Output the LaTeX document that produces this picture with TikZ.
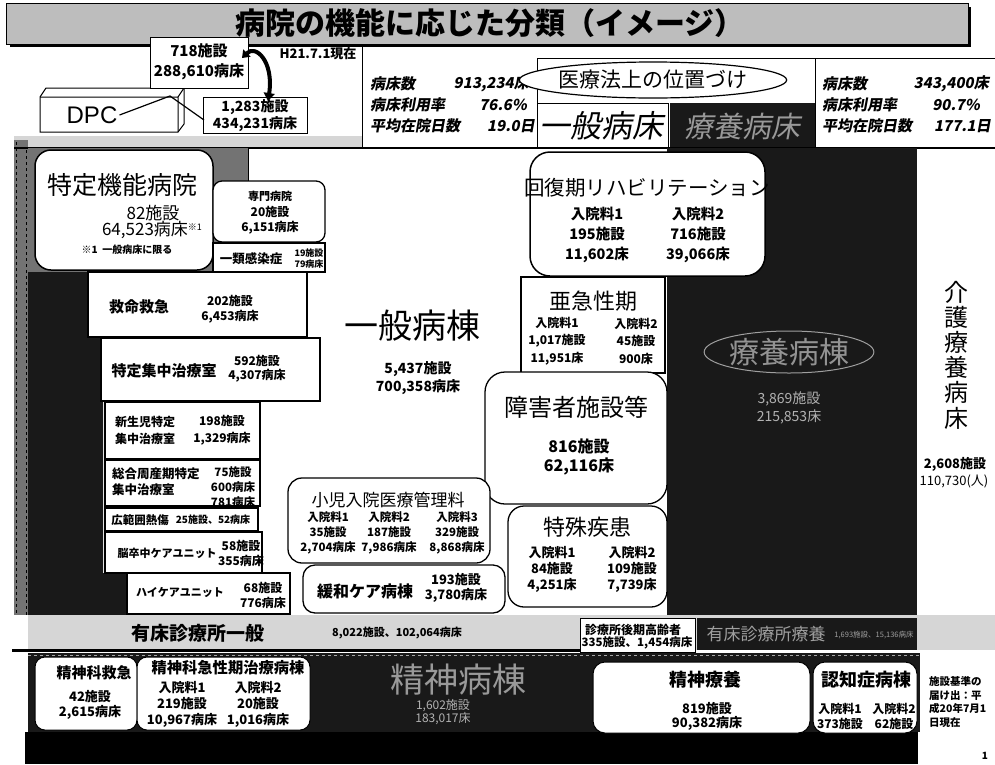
\documentclass[tikz,border=0pt]{standalone}
\usepackage{fontspec}
\setmainfont{Noto Sans CJK JP}
\newfontfamily\slf[FakeSlant=0.18]{Noto Sans CJK JP}
\newfontfamily\dpcf{Liberation Sans}
\usetikzlibrary{arrows.meta,shapes.geometric}
\definecolor{dk}{gray}{0.1}
\definecolor{mg}{gray}{0.45}
\definecolor{lg}{gray}{0.74}
\definecolor{lb}{gray}{0.84}
\begin{document}
\begin{tikzpicture}[x=1pt,y=-1pt,
  txr/.style n args={2}{inner sep=0pt, align=center, font=\fontsize{#1}{#2}\selectfont},
  txb/.style n args={2}{inner sep=0pt, align=center, font=\fontsize{#1}{#2}\selectfont\bfseries},
  txs/.style n args={2}{inner sep=0pt, font=\slf\fontsize{#1}{#2}\selectfont\bfseries},
  bx/.style={draw=black, line width=1.3pt, fill=white},
  rbx/.style={bx, rounded corners=11pt}]
\useasboundingbox (0,0) rectangle (995,764);
\fill[white] (0,0) rectangle (995,764);

% title banner
\fill[black] (10,7) rectangle (971,47);
\draw[line width=1pt, fill=lg] (6,3) rectangle (968,44);
\node[txb={30}{30}] (title) at (490,23) {病院の機能に応じた分類（イメージ）};

% top strip + left frame
\fill[lb] (14,136) rectangle (362,148);
\fill[mg] (14,140) rectangle (28,615);
\draw[dashed, line width=0.8pt] (16,142) -- (16,615);
\draw[dashed, line width=0.8pt] (26,150) -- (26,615);

% DPC
\draw[line width=1pt, fill=white] (40,97) -- (46,88) -- (184,88) -- (184,124) -- (178,132) -- (40,132) -- cycle;
\draw[line width=1pt] (40,97) -- (178,97) -- (178,132) (178,97) -- (184,88);
\node[inner sep=0pt, font=\dpcf\fontsize{24}{24}\selectfont] (dpc) at (92,115) {DPC};

% 718 box
\draw[bx, line width=1pt] (150,37) rectangle (248,88);
\node[txb={15}{20}] (n718) at (199,62) {718施設\\288,610病床};

% 1283 box
\draw[bx, line width=1pt] (203,97) rectangle (307,133);
\node[txb={14}{17}] (n1283) at (255,116) {1,283施設\\434,231病床};

% callout lines
\coordinate (cA) at (170,96);
\coordinate (cB) at (204,120);
\draw[line width=1.2pt] ([xshift=2pt]dpc.east) -- (cA) -- (cB);

% curved arrow
\coordinate (arS) at (242,58);
\coordinate (arE) at (268,101);
\draw[line width=4pt, {Triangle[length=7pt,width=10pt]}-{Triangle[length=8pt,width=11pt]}] (arS) .. controls (256,44) and (274,62) .. (arE);

\node[txb={13}{13}] (h21) at (318,54) {H21.7.1現在};

% header
\draw[line width=1pt] (362,46) -- (362,148);
\node[txs={15}{15}, anchor=west] (l1) at (370,84) {病床数};
\node[txs={15}{15}, anchor=east] (v1) at (529,84) {913,234床};
\node[txs={15}{15}, anchor=west] (l2) at (370,105) {病床利用率};
\node[txs={15}{15}, anchor=east] (v2) at (527,105) {76.6\%};
\node[txs={15}{15}, anchor=west] (l3) at (370,126) {平均在院日数};
\node[txs={15}{15}, anchor=east] (v3) at (535,126) {19.0日};

\draw[line width=1pt] (537,58) -- (995,58);
\draw[line width=1pt] (537,58) -- (537,148);
\draw[line width=1pt] (815,58) -- (815,148);
\node[draw, ellipse, line width=1.2pt, minimum width=228pt, minimum height=36pt, fill=white, txr={21}{21}] (iryo) at (653,80) {医療法上の位置づけ};

\draw[line width=1pt, fill=white] (537,103) rectangle (668,148);
\node[inner sep=0pt, font=\slf\fontsize{31}{31}\selectfont] (ippanb) at (601,126) {一般病床};
\fill[dk] (670,103) rectangle (815,148);
\node[inner sep=0pt, font=\slf\fontsize{29}{29}\selectfont, text=gray!80] (ryoyob) at (742,126) {療養病床};

\node[txs={15}{15}, anchor=west] (r1) at (822,84) {病床数};
\node[txs={15}{15}, anchor=east] (rv1) at (989,84) {343,400床};
\node[txs={15}{15}, anchor=west] (r2) at (822,105) {病床利用率};
\node[txs={15}{15}, anchor=east] (rv2) at (980,105) {90.7\%};
\node[txs={15}{15}, anchor=west] (r3) at (822,126) {平均在院日数};
\node[txs={15}{15}, anchor=east] (rv3) at (991,126) {177.1日};

\draw[line width=1.2pt] (14,148) -- (995,148);

% stippled left areas
\fill[mg] (28,148) rectangle (248,272);
\draw[line width=1pt] (248,148) -- (248,181);
\fill[dk] (28,272) -- (88,272) -- (88,338) -- (103,338) -- (103,573) -- (127,573) -- (127,615) -- (28,615) -- cycle;

% dark column
\fill[dk] (667,148) rectangle (917,616);

% left stack
\draw[rbx, rounded corners=16pt, line width=1.5pt] (35,150) rectangle (213,270);
\node[txr={25}{25}] (tokutei) at (122,185) {特定機能病院};
\node[txr={17}{17}] (t82) at (153,213) {82施設};
\node[txr={17}{17}] (t64) at (152,230) {64,523病床\raisebox{5pt}{\fontsize{9}{9}\selectfont ※1}};
\node[txb={10}{10}] (tnote) at (127,250) {※1\ \ 一般病床に限る};

\draw[rbx, rounded corners=9pt] (213,181) rectangle (325,242);
\node[txb={11}{11}] (senmon) at (270,196) {専門病院};
\node[txb={12}{15}] (senmon2) at (270,220) {20施設\\6,151病床};

\draw[bx] (213,243) rectangle (325,272);
\node[txb={12.5}{12.5}] (ichirui) at (251,259) {一類感染症};
\node[txb={9}{11}] (ichirui2) at (309,259) {19施設\\79病床};

\draw[bx] (88,272) rectangle (307,337);
\node[txb={15}{15}] (kyumei) at (139,307) {救命救急};
\node[txb={12}{15}] (kyumei2) at (230,309) {202施設\\6,453病床};

\draw[bx] (101,338) rectangle (320,401);
\node[txb={15}{15}] (icu) at (164,371) {特定集中治療室};
\node[txb={12}{14}] (icu2) at (257,369) {592施設\\4,307病床};

\draw[bx] (105,402) rectangle (260,459);
\node[txb={12}{17}] (nicu) at (145,430) {新生児特定\\集中治療室};
\node[txb={12}{17}] (nicu2) at (222,430) {198施設\\1,329病床};

\draw[bx] (105,460) rectangle (260,506);
\node[txb={12.5}{16}, align=left, anchor=west] (mficu) at (112,482) {総合周産期特定\\集中治療室};
\node[txb={11.5}{15}] (mficu2) at (233,487) {75施設\\600病床\\781病床};

\draw[bx] (105,508) rectangle (258,531);
\node[txb={11.5}{11.5}] (burn) at (140,520) {広範囲熱傷};
\node[txb={10}{10}] (burn2) at (213,520) {25施設、52病床};

\draw[bx] (105,532) rectangle (262,573);
\node[txb={11}{11}] (scu) at (167,553) {脳卒中ケアユニット};
\node[txb={12}{15}] (scu2) at (241,553) {58施設\\355病床};

\draw[bx] (127,573) rectangle (290,614);
\node[txb={11}{11}] (hcu) at (180,593) {ハイケアユニット};
\node[txb={12}{15}] (hcu2) at (263,595) {68施設\\776病床};

% centre
\node[txr={34}{34}] (ippan) at (412,326) {一般病棟};
\node[txb={14}{18}] (ippan2) at (418,378) {5,437施設\\700,358病床};

% right stack
\draw[rbx, rounded corners=20pt, line width=1.5pt] (530,152) rectangle (765,276);
\node[txr={20.5}{20.5}] (kaifuku) at (647,188) {回復期リハビリテーション};
\node[txb={14.5}{20}] (kf1) at (597,235) {入院料1\\195施設\\11,602床};
\node[txb={14.5}{20}] (kf2) at (698,235) {入院料2\\716施設\\39,066床};

\draw[bx] (521,277) rectangle (665,373);
\node[txr={22}{22}] (akyu) at (593,301) {亜急性期};
\node[txb={12}{17.5}] (ak1) at (557,341) {入院料1\\1,017施設\\11,951床};
\node[txb={12}{17.5}] (ak2) at (636,341) {入院料2\\45施設\\900床};

\draw[rbx, rounded corners=20pt] (485,372) rectangle (667,504);
\node[txr={24}{24}] (shogai) at (576,407) {障害者施設等};
\node[txb={16}{19}] (shogai2) at (579,457) {816施設\\62,116床};

\draw[rbx, rounded corners=14pt] (288,478) rectangle (490,563);
\node[txr={17}{17}] (shoni) at (388,500) {小児入院医療管理料};
\node[txb={11.5}{15}] (sh1) at (328,533) {入院料1\\35施設\\2,704病床};
\node[txb={11.5}{15}] (sh2) at (389,533) {入院料2\\187施設\\7,986病床};
\node[txb={11.5}{15}] (sh3) at (457,533) {入院料3\\329施設\\8,868病床};

\draw[rbx, rounded corners=12pt] (303,565) rectangle (505,613);
\node[txb={16}{16}] (kanwa) at (365,591) {緩和ケア病棟};
\node[txb={13}{15}] (kanwa2) at (456,588) {193施設\\3,780病床};

\draw[rbx, rounded corners=16pt] (508,506) rectangle (667,607);
\node[txr={22}{22}] (tokushu) at (587,527) {特殊疾患};
\node[txb={13}{16}] (ts1) at (552,569) {入院料1\\84施設\\4,251床};
\node[txb={13}{16}] (ts2) at (632,569) {入院料2\\109施設\\7,739床};

% ryoyo byoto
\node[draw=gray!75, ellipse, line width=1pt, minimum width=166pt, minimum height=42pt, txr={30}{30}, text=gray!85] (ryoyo2) at (789,352) {療養病棟};
\node[txr={14}{18}, text=gray!60] (ryoyo3) at (789,408) {3,869施設\\215,853床};

% kaigo
\node[txr={24}{25.2}, text width=26pt] (kaigo) at (956,355) {介\\護\\療\\養\\病\\床};
\node[txb={13}{13}] (kaigo2) at (955,464) {2,608施設};
\node[txr={13}{13}] (kaigo3) at (954,481) {110,730(人)};

% clinic band
\fill[lb] (28,615) rectangle (995,650);
\draw[line width=3pt] (12,650) -- (580,650);
\node[txb={19}{19}] (yusho) at (198,633) {有床診療所一般};
\node[txb={11}{11}] (yusho2) at (397,633) {8,022施設、102,064病床};
\draw[line width=0.8pt, fill=white] (580,618) rectangle (695,652);
\node[txb={12}{12}] (koki) at (633,630) {診療所後期高齢者};
\node[txb={11.5}{11.5}] (koki2) at (637,643) {335施設、1,454病床};
\fill[dk] (697,618) rectangle (917,650);
\node[txr={17}{17}, text=gray!75] (yusho3) at (766,634) {有床診療所療養};
\node[txr={7.5}{7.5}, text=gray!75] (yusho4) at (874,635) {1,693施設、15,136病床};

% psychiatric area
\fill[dk] (28,653) rectangle (920,732);
\fill[black] (25,732) rectangle (918,764);
\draw[dashed, gray!70, line width=1pt] (28,655) -- (920,655);

\draw[rbx, rounded corners=10pt, line width=1pt] (35,657) rectangle (137,730);
\node[txb={15}{15}] (pq) at (94,673) {精神科救急};
\node[txb={13}{15}] (pq2) at (90,705) {42施設\\2,615病床};

\draw[rbx, rounded corners=10pt, line width=1pt] (137,657) rectangle (310,730);
\node[txb={15.3}{15.3}] (pa) at (228,668) {精神科急性期治療病棟};
\node[txb={13}{16}] (pa1) at (182,704) {入院料1\\219施設\\10,967病床};
\node[txb={13}{16}] (pa2) at (258,704) {入院料2\\20施設\\1,016病床};

\node[txr={34}{34}, text=gray!80] (seishin) at (458,680) {精神病棟};
\node[txr={12}{13}, text=gray!60] (seishin2) at (443,712) {1,602施設\\183,017床};

\draw[rbx, rounded corners=12pt, line width=1pt] (593,662) rectangle (810,733);
\node[txb={18}{18}] (pr) at (705,680) {精神療養};
\node[txb={13}{14}] (pr2) at (707,716) {819施設\\90,382病床};

\draw[rbx, rounded corners=12pt, line width=1pt] (813,662) rectangle (917,733);
\node[txb={18}{18}] (nc) at (866,680) {認知症病棟};
\node[txb={12}{15}] (nc1) at (840,716) {入院料1\\373施設};
\node[txb={12}{15}] (nc2) at (894,716) {入院料2\\62施設};

\node[txb={10.5}{13.5}, align=left, anchor=west] (note) at (929,702) {施設基準の\\届け出：平\\成20年7月1\\日現在};
\node[txb={10}{10}] (pg) at (985,756) {1};
\end{tikzpicture}
\end{document}
